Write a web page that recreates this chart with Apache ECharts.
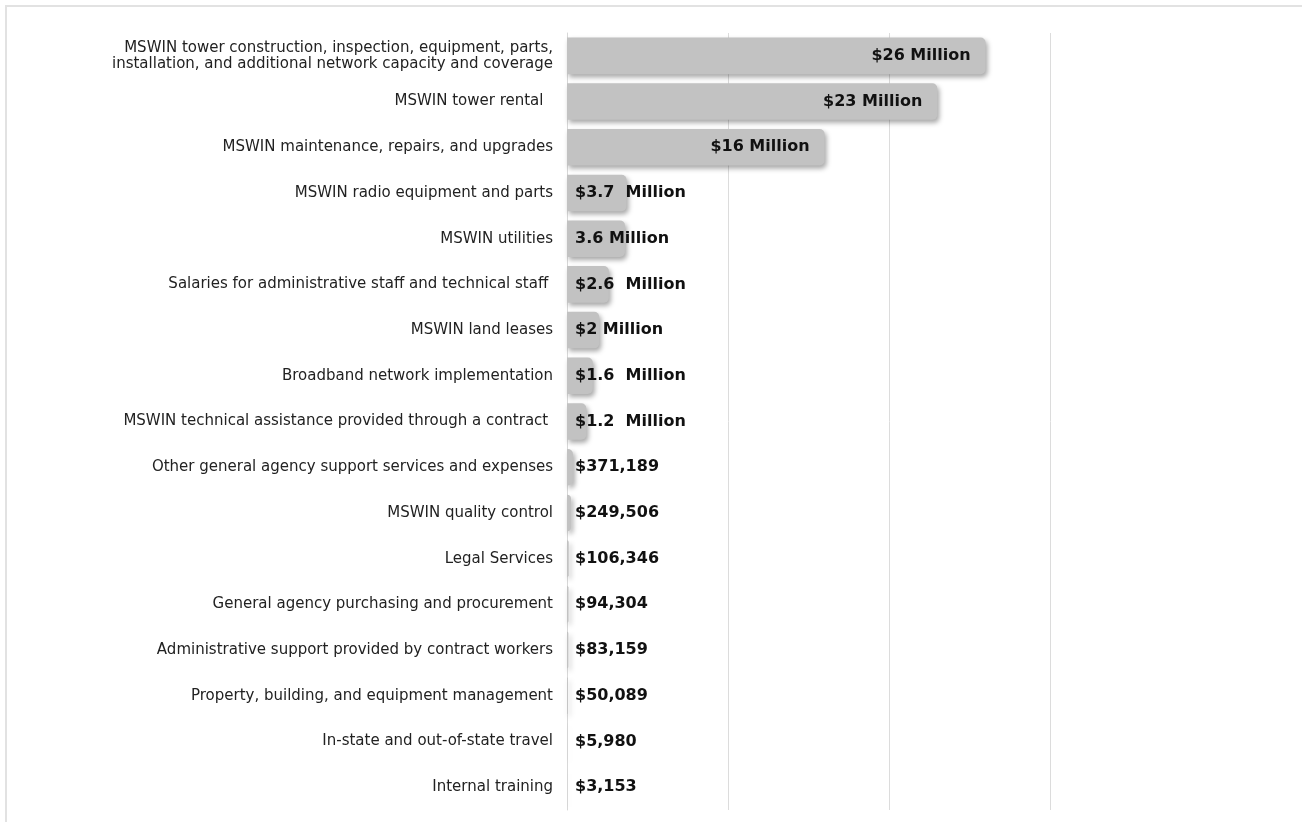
<!DOCTYPE html>
<html>
<head>
<meta charset="utf-8">
<script src="https://cdn.jsdelivr.net/npm/echarts@6/dist/echarts.min.js"></script>
<style>
html,body{margin:0;padding:0;background:#fff;}
#frame{position:absolute;left:5px;top:5px;width:1297px;height:817px;border-top:2px solid #e2e2e2;border-left:2px solid #e2e2e2;box-sizing:border-box;}
#chart{position:absolute;left:0;top:0;width:1302px;height:822px;}
</style>
</head>
<body>
<div id="frame"></div>
<div id="chart"></div>
<script>
const categories = [
  "MSWIN tower construction, inspection, equipment, parts,\ninstallation, and additional network capacity and coverage",
  "MSWIN tower rental  ",
  "MSWIN maintenance, repairs, and upgrades",
  "MSWIN radio equipment and parts",
  "MSWIN utilities",
  "Salaries for administrative staff and technical staff ",
  "MSWIN land leases",
  "Broadband network implementation",
  "MSWIN technical assistance provided through a contract ",
  "Other general agency support services and expenses",
  "MSWIN quality control",
  "Legal Services",
  "General agency purchasing and procurement",
  "Administrative support provided by contract workers",
  "Property, building, and equipment management",
  "In-state and out-of-state travel",
  "Internal training"
];
const values = [26000000, 23000000, 16000000, 3700000, 3600000, 2600000, 2000000, 1600000, 1200000,
  371189, 249506, 106346, 94304, 83159, 50089, 5980, 3153];
const valueLabels = ["$26 Million", "$23 Million", "$16 Million", "$3.7  Million", "3.6 Million",
  "$2.6  Million", "$2 Million", "$1.6  Million", "$1.2  Million", "$371,189", "$249,506",
  "$106,346", "$94,304", "$83,159", "$50,089", "$5,980", "$3,153"];
const axisMax = 30000000;
const axisInterval = 10000000;

const chart = echarts.init(document.getElementById('chart'), null, {renderer:'canvas'});
const FONT = 'DejaVu Sans';
chart.setOption({
  animation:false,
  grid:{left:567, right:252, top:33, bottom:12, containLabel:false},
  xAxis:{
    type:'value', min:0, max:axisMax, interval:axisInterval,
    axisLabel:{show:false}, axisTick:{show:false}, axisLine:{show:false},
    splitLine:{show:true, lineStyle:{color:'#dcdcdc', width:1}}
  },
  yAxis:{
    type:'category', inverse:true, data:categories,
    axisTick:{show:false},
    axisLine:{show:true, lineStyle:{color:'#d8d8d8', width:1}},
    axisLabel:{fontFamily:FONT, fontSize:15, color:'#222', margin:14, lineHeight:16, align:'right'}
  },
  series:[{
    type:'bar',
    barCategoryGap:'20%',
    data:values.map((v,i)=>({
      value:v,
      label:{
        show:true,
        formatter:valueLabels[i],
        position: i<3 ? 'insideRight' : 'insideLeft',
        distance: i<3 ? 15 : 8,
        fontFamily:FONT, fontWeight:'bold', fontSize:16, color:'#111'
      }
    })),
    itemStyle:{
      color:'#c2c2c2', borderRadius:[0,5,5,0],
      shadowColor:'rgba(0,0,0,0.35)', shadowBlur:5, shadowOffsetX:2, shadowOffsetY:3
    }
  }]
});
</script>
</body>
</html>
